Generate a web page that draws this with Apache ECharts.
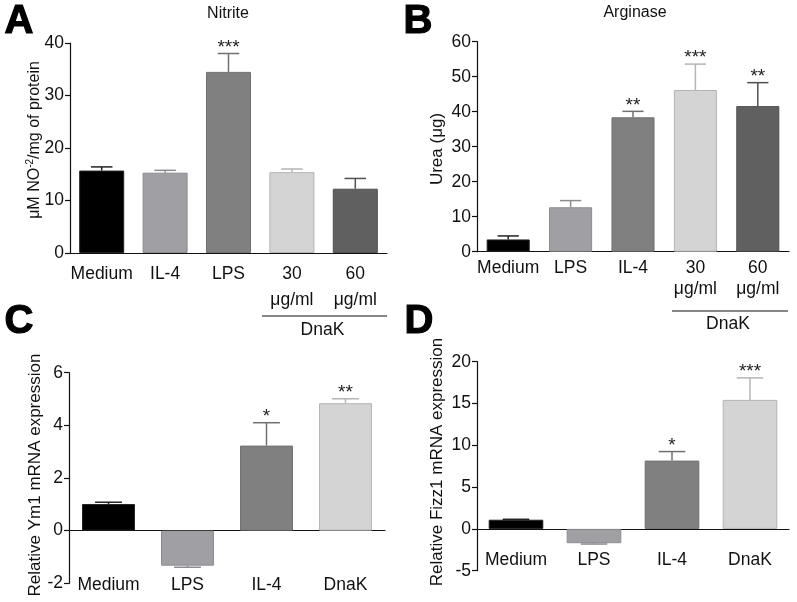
<!DOCTYPE html>
<html>
<head>
<meta charset="utf-8">
<script src="https://cdn.jsdelivr.net/npm/echarts@6/dist/echarts.min.js"></script>
<style>html,body{margin:0;padding:0;background:#fff}#c{width:797px;height:602px}</style>
</head>
<body>
<div id="c"></div>
<script>
// ---- Panel A: Nitrite ----
const catsA = ['Medium', 'IL-4', 'LPS', '30\nμg/ml', '60\nμg/ml'];
const meanA = [15.7, 15.3, 34.5, 15.4, 12.25];
const errA  = [0.7, 0.45, 3.5, 0.6, 1.95];
const sigA  = ['', '', '***', '', ''];
const ticksA = [0, 10, 20, 30, 40];

// ---- Panel B: Arginase ----
const catsB = ['Medium', 'LPS', 'IL-4', '30\nμg/ml', '60\nμg/ml'];
const meanB = [3.5, 12.7, 38.4, 46.2, 41.6];
const errB  = [1.0, 1.9, 1.7, 7.4, 6.7];
const sigB  = ['', '', '**', '***', '**'];
const ticksB = [0, 10, 20, 30, 40, 50, 60];

// ---- Panel C: Ym1 ----
const catsC = ['Medium', 'LPS', 'IL-4', 'DnaK'];
const meanC = [1.01, -1.33, 3.23, 4.84];
const errC  = [0.07, 0.06, 0.87, 0.17];
const sigC  = ['', '', '*', '**'];
const ticksC = [-2, 0, 2, 4, 6];

// ---- Panel D: Fizz1 ----
const catsD = ['Medium', 'LPS', 'IL-4', 'DnaK'];
const meanD = [1.1, -1.71, 8.17, 15.43];
const errD  = [0.05, 0.1, 1.08, 2.63];
const sigD  = ['', '', '*', '***'];
const ticksD = [-5, 0, 5, 10, 15, 20];

const FONT = '"Liberation Sans", Arial, Helvetica, sans-serif';
const AX = '#111111';
const TXT = '#111111';

// styles (per bar position)
const fillA = ['#000000', '#a0a0a4', '#808080', '#d4d4d4', '#606060'];
const edgeA = ['#222222', '#8c8c90', '#707070', '#b4b4b4', '#505050'];
const fillB = ['#000000', '#a0a0a4', '#808080', '#d4d4d4', '#606060'];
const edgeB = ['#222222', '#8c8c90', '#707070', '#b4b4b4', '#505050'];
const fillC = ['#000000', '#a0a0a4', '#808080', '#d4d4d4'];
const edgeC = ['#222222', '#8c8c90', '#707070', '#b4b4b4'];

function errRender(means, errs, sigs, cols) {
  return function (params, api) {
    const i = params.dataIndex;
    const m = means[i], e = errs[i];
    const dir = m >= 0 ? 1 : -1;
    const p0 = api.coord([i, m]);
    const p1 = api.coord([i, m + dir * e]);
    const hw = api.size([1, 0])[0] * 0.17;
    const st = { stroke: cols[i], lineWidth: 1.5 };
    const ch = [
      { type: 'line', shape: { x1: p0[0], y1: p0[1], x2: p1[0], y2: p1[1] }, style: st },
      { type: 'line', shape: { x1: p1[0] - hw, y1: p1[1], x2: p1[0] + hw, y2: p1[1] }, style: st }
    ];
    if (sigs[i]) {
      ch.push({ type: 'text', style: { text: sigs[i], x: p1[0], y: p1[1] - 6, align: 'center', verticalAlign: 'middle', font: '19px ' + FONT, fill: '#222' } });
    }
    return { type: 'group', children: ch };
  };
}

function yAx(grid, min, max, interval) {
  return {
    type: 'value', gridIndex: grid, min: min, max: max, interval: interval,
    axisLine: { show: true, lineStyle: { color: AX, width: 1.2 } },
    axisTick: { show: true, length: 5, lineStyle: { color: AX, width: 1.2 } },
    splitLine: { show: false },
    axisLabel: { fontSize: 17.5, color: TXT, fontFamily: FONT, margin: 6 }
  };
}

function barSeries(xi, yi, means, fills, edges, gap) {
  return {
    type: 'bar', xAxisIndex: xi, yAxisIndex: yi, barCategoryGap: gap,
    data: means.map((v, i) => ({ value: v, itemStyle: { color: fills[i], borderColor: edges[i], borderWidth: 1 } })),
    silent: true, animation: false
  };
}
function errSeries(xi, yi, means, errs, sigs, cols) {
  return {
    type: 'custom', xAxisIndex: xi, yAxisIndex: yi, clip: false, z: 5,
    data: means.map((v, i) => [i, v]),
    encode: { x: 0, y: 1 },
    renderItem: errRender(means, errs, sigs, cols),
    silent: true, animation: false
  };
}

const catLabel = { fontSize: 17.5, color: TXT, fontFamily: FONT };
const LET = 'bold 40px "Liberation Sans", Arial, sans-serif';
const letStyle = (t) => ({ text: t, font: LET, fill: '#000', stroke: '#000', lineWidth: 1.2 });

const option = {
  animation: false,
  grid: [
    { left: 70, top: 43, width: 317, height: 210 },
    { left: 477, top: 41.7, width: 312, height: 210 },
    { left: 69, top: 372.7, width: 316, height: 210.6 },
    { left: 477, top: 361.7, width: 312, height: 209 }
  ],
  xAxis: [
    { type: 'category', gridIndex: 0, data: catsA,
      axisLine: { lineStyle: { color: AX, width: 1.2 } },
      axisTick: { alignWithLabel: true, length: 5, lineStyle: { color: AX, width: 1.2 } },
      axisLabel: Object.assign({ margin: 8, lineHeight: 26, interval: 0 }, catLabel) },
    { type: 'category', gridIndex: 1, data: catsB,
      axisLine: { lineStyle: { color: AX, width: 1.2 } },
      axisTick: { alignWithLabel: true, length: 5, lineStyle: { color: AX, width: 1.2 } },
      axisLabel: Object.assign({ margin: 6, lineHeight: 21, interval: 0 }, catLabel) },
    { type: 'category', gridIndex: 2, data: catsC, position: 'bottom',
      axisLine: { onZero: true, lineStyle: { color: AX, width: 1.2 } },
      axisTick: { alignWithLabel: true, length: 6, lineStyle: { color: AX, width: 1.2 } },
      axisLabel: { show: false } },
    { type: 'category', gridIndex: 2, data: catsC, position: 'bottom',
      axisLine: { show: false, onZero: false }, axisTick: { show: false },
      axisLabel: Object.assign({ margin: 2, verticalAlign: 'middle', interval: 0 }, catLabel) },
    { type: 'category', gridIndex: 3, data: catsD, position: 'bottom',
      axisLine: { onZero: true, lineStyle: { color: AX, width: 1.2 } },
      axisTick: { alignWithLabel: true, length: 6, lineStyle: { color: AX, width: 1.2 } },
      axisLabel: { show: false } },
    { type: 'category', gridIndex: 3, data: catsD, position: 'bottom',
      axisLine: { show: false, onZero: false }, axisTick: { show: false },
      axisLabel: Object.assign({ margin: -10.7, verticalAlign: 'middle', interval: 0 }, catLabel) }
  ],
  yAxis: [
    yAx(0, ticksA[0], ticksA[ticksA.length - 1], 10),
    yAx(1, ticksB[0], ticksB[ticksB.length - 1], 10),
    yAx(2, ticksC[0], ticksC[ticksC.length - 1], 2),
    yAx(3, ticksD[0], ticksD[ticksD.length - 1], 5)
  ],
  series: [
    barSeries(0, 0, meanA, fillA, edgeA, '29%'),
    errSeries(0, 0, meanA, errA, sigA, edgeA),
    barSeries(1, 1, meanB, fillB, edgeB, '31%'),
    errSeries(1, 1, meanB, errB, sigB, edgeB),
    barSeries(2, 2, meanC, fillC, edgeC, '33%'),
    errSeries(2, 2, meanC, errC, sigC, edgeC),
    barSeries(4, 3, meanD, fillC, edgeC, '30%'),
    errSeries(4, 3, meanD, errD, sigD, edgeC)
  ],
  graphic: [
    // panel letters
    { type: 'text', left: 4, top: 1, style: letStyle('A') },
    { type: 'text', left: 403, top: 1, style: letStyle('B') },
    { type: 'text', left: 4, top: 301, style: letStyle('C') },
    { type: 'text', left: 404, top: 301, style: letStyle('D') },
    // titles
    { type: 'text', x: 228, y: 14, style: { text: 'Nitrite', align: 'center', verticalAlign: 'middle', font: '16px ' + FONT, fill: TXT } },
    { type: 'text', x: 635, y: 13, style: { text: 'Arginase', align: 'center', verticalAlign: 'middle', font: '16px ' + FONT, fill: TXT } },
    // y axis names
    { type: 'text', x: 35, y: 140, rotation: Math.PI / 2, style: {
        text: '{a|μM NO}{s|-2}{a|/mg of protein}', align: 'center', verticalAlign: 'middle',
        rich: {
          a: { fontSize: 16, fontFamily: FONT, fill: TXT, lineHeight: 20 },
          s: { fontSize: 10, fontFamily: FONT, fill: TXT, lineHeight: 20, padding: [0, 0, 9, 0] }
        } } },
    { type: 'text', x: 437, y: 149, rotation: Math.PI / 2, style: { text: 'Urea (μg)', align: 'center', verticalAlign: 'middle', font: '17px ' + FONT, fill: TXT } },
    { type: 'text', x: 35, y: 475, rotation: Math.PI / 2, style: { text: 'Relative Ym1 mRNA expression', align: 'center', verticalAlign: 'middle', font: '17px ' + FONT, fill: TXT } },
    { type: 'text', x: 437, y: 462, rotation: Math.PI / 2, style: { text: 'Relative Fizz1 mRNA expression', align: 'center', verticalAlign: 'middle', font: '17px ' + FONT, fill: TXT } },
    // DnaK brackets
    { type: 'line', shape: { x1: 262, y1: 316, x2: 387, y2: 316 }, style: { stroke: AX, lineWidth: 1.2 } },
    { type: 'text', x: 322.5, y: 330, style: { text: 'DnaK', align: 'center', verticalAlign: 'middle', font: '17.5px ' + FONT, fill: TXT } },
    { type: 'line', shape: { x1: 672, y1: 311, x2: 788, y2: 311 }, style: { stroke: AX, lineWidth: 1.2 } },
    { type: 'text', x: 728, y: 324, style: { text: 'DnaK', align: 'center', verticalAlign: 'middle', font: '17.5px ' + FONT, fill: TXT } }
  ]
};

const chart = echarts.init(document.getElementById('c'), null, { renderer: 'canvas' });
chart.setOption(option);
</script>
</body>
</html>
